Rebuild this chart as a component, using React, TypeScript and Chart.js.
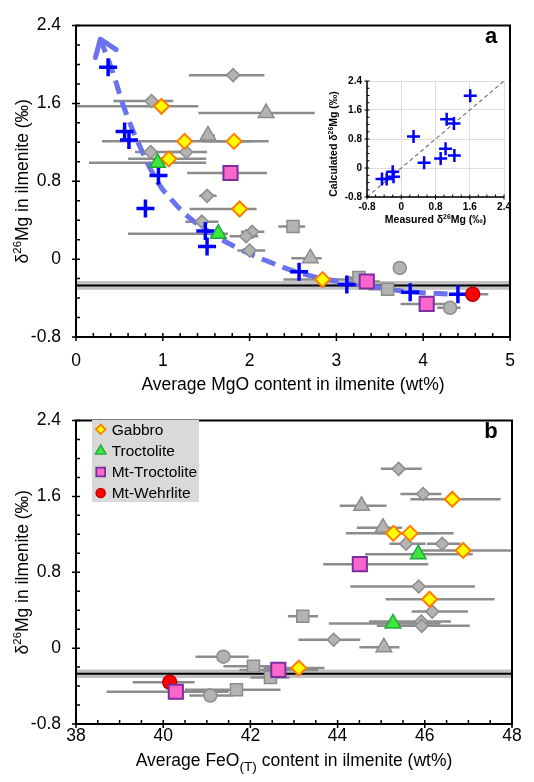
import React, { useEffect, useRef } from 'react';
import { Chart, registerables } from 'chart.js';

Chart.register(...registerables);

const FONT = 'Arial, "Liberation Sans", Helvetica, sans-serif';
Chart.defaults.font.family = FONT;

// ---------------- data ----------------
// mantle reference value of δ26Mg (line) and its half-width (band)
const mantleD26 = -0.27;
const mantleHalfWidth = 0.045;

// Gabbro (this study)
const gabbroD26 = [1.57, 1.21, 1.21, 1.03, 0.515, -0.21];
const gabbroMgO = [0.985, 1.25, 1.82, 1.07, 1.885, 2.84];
const gabbroMgOLo = [-0.2, 0.3, 1.45, 0.6, 1.31, 2.39];
const gabbroMgOHi = [1.41, 2.05, 2.22, 1.5, 2.08, 3.25];
const gabbroFeO = [46.63, 45.28, 45.66, 46.88, 46.11, 43.11];
const gabbroFeOLo = [45.67, 44.19, 44.9, 45.9, 45.1, 42.3];
const gabbroFeOHi = [47.74, 46.3, 46.66, 48.2, 47.6, 43.7];

// Troctolite
const troctD26 = [0.99, 0.26];
const troctMgO = [0.94, 1.64];
const troctMgOLo = [0.15, 0.6];
const troctMgOHi = [1.5, 1.75];
const troctFeO = [45.85, 45.27];
const troctFeOLo = [44.63, 43.8];
const troctFeOHi = [47.1, 46.36];

// Mt-Troctolite
const mtTroctD26 = [0.885, -0.23, -0.46];
const mtTroctMgO = [1.78, 3.35, 4.04];
const mtTroctMgOLo = [1.28, 3.2, 3.74];
const mtTroctMgOHi = [2.2, 3.5, 4.3];
const mtTroctFeO = [44.51, 42.64, 40.29];
const mtTroctFeOLo = [43.67, 41.75, 38.7];
const mtTroctFeOHi = [46.08, 43.55, 41.5];

// Mt-Wehrlite
const mtWehrD26 = [-0.36];
const mtWehrMgO = [4.57];
const mtWehrMgOLo = [4.35];
const mtWehrMgOHi = [4.75];
const mtWehrFeO = [40.15];
const mtWehrFeOLo = [39.3];
const mtWehrFeOHi = [40.72];

// Literature data (grey) - diamonds
const litDiaD26 = [1.89, 1.625, 1.1, 1.1, 0.65, 0.385, 0.28, 0.235, 0.088];
const litDiaMgO = [1.81, 0.87, 0.86, 1.27, 1.51, 1.45, 2.03, 1.96, 2.0];
const litDiaMgOLo = [1.3, 0.43, 0.68, 1.1, 1.42, 1.26, 1.9, 1.77, 1.86];
const litDiaMgOHi = [2.17, 1.12, 1.2, 1.51, 1.62, 1.64, 2.17, 2.1, 2.18];
const litDiaFeO = [45.4, 45.96, 45.57, 46.4, 45.86, 46.17, 45.92, 45.93, 43.91];
const litDiaFeOLo = [44.99, 45.44, 45.19, 46.05, 44.29, 45.7, 44.72, 44.9, 43.1];
const litDiaFeOHi = [45.93, 46.38, 46.02, 46.82, 47.15, 46.99, 46.6, 47.03, 44.52];

// Literature - triangles
const litTriD26 = [1.5, 1.27, 0.01];
const litTriMgO = [2.19, 1.52, 2.7];
const litTriMgOLo = [1.41, 1.45, 2.48];
const litTriMgOHi = [2.75, 1.6, 2.83];
const litTriFeO = [44.55, 45.04, 45.06];
const litTriFeOLo = [44.05, 44.44, 44.5];
const litTriFeOHi = [45.12, 45.48, 45.42];

// Literature - squares
const litSqD26 = [0.335, -0.19, -0.31, -0.44];
const litSqMgO = [2.5, 3.26, 3.59, null];
const litSqMgOLo = [2.33, 3.12, 3.37, null];
const litSqMgOHi = [2.64, 3.4, 3.73, null];
const litSqFeO = [43.2, 42.07, 42.46, 41.68];
const litSqFeOLo = [42.86, 41.38, 42.0, 40.5];
const litSqFeOHi = [43.55, 42.5, 42.9, 42.69];

// Literature - circles
const litCirD26 = [-0.09, -0.5];
const litCirMgO = [3.73, 4.31];
const litCirMgOLo = [3.73, 4.16];
const litCirMgOHi = [3.73, 4.43];
const litCirFeO = [41.38, 41.08];
const litCirFeOLo = [40.74, 40.6];
const litCirFeOHi = [41.96, 41.6];

// Calculated (model) δ26Mg vs MgO
const modelMgO = [0.37, 0.56, 0.61, 0.95, 0.8, 1.49, 1.51, 2.57, 3.12, 3.85, 4.4];
const modelD26 = [1.97, 1.31, 1.225, 0.86, 0.52, 0.29, 0.13, -0.13, -0.26, -0.34, -0.36];

// Trend curve (arrow tip first)
const curveMgO = [0.28, 0.42, 0.56, 0.75, 0.95, 1.12, 1.3, 1.55, 1.85, 2.23, 2.65, 3.03, 3.41, 3.78, 4.3];
const curveD26 = [2.26, 1.93, 1.54, 1.13, 0.78, 0.59, 0.43, 0.27, 0.12, -0.03, -0.16, -0.23, -0.28, -0.33, -0.36];

// Inset: measured vs calculated
const insetMeasured = [1.61, 1.06, 1.23, 0.287, 1.035, 1.24, 0.92, 0.534, -0.2, -0.18, -0.34, -0.45];
const insetCalculated = [1.99, 1.345, 1.23, 0.867, 0.533, 0.344, 0.263, 0.146, -0.1, -0.24, -0.305, -0.305];
const oneToOne = [-0.8, 2.4];

const legendLabels = ['Gabbro', 'Troctolite', 'Mt-Troctolite', 'Mt-Wehrlite'];

// ---------------- styles ----------------
const BAR_COLOR = '#8c8c8c';
const CURVE_COLOR = '#6a72ef';
const STY: Record<string, any> = {
  gabbro: { pointStyle: 'rectRot', pointRadius: 7.5, backgroundColor: '#ffff00', borderColor: '#ff7c00', borderWidth: 2 },
  troct: { pointStyle: 'triangle', pointRadius: 9, backgroundColor: '#3ee63e', borderColor: '#1fa83a', borderWidth: 1.5 },
  mtTroct: { pointStyle: 'rect', pointRadius: 10, backgroundColor: '#ff66cc', borderColor: '#7a2fa0', borderWidth: 2 },
  mtWehr: { pointStyle: 'circle', pointRadius: 7, backgroundColor: '#ff0000', borderColor: '#c00000', borderWidth: 1.5 },
  gDia: { pointStyle: 'rectRot', pointRadius: 6.5, backgroundColor: '#b3b3b3', borderColor: '#8c8c8c', borderWidth: 1.5 },
  gTri: { pointStyle: 'triangle', pointRadius: 9, backgroundColor: '#b3b3b3', borderColor: '#8c8c8c', borderWidth: 1.5 },
  gSq: { pointStyle: 'rect', pointRadius: 8.5, backgroundColor: '#b3b3b3', borderColor: '#8c8c8c', borderWidth: 1.5 },
  gCir: { pointStyle: 'circle', pointRadius: 6.5, backgroundColor: '#b3b3b3', borderColor: '#8c8c8c', borderWidth: 1.5 },
  model: { pointStyle: 'cross', pointRadius: 9, backgroundColor: '#0000ff', borderColor: '#0000ff', borderWidth: 3.5 },
};

type Seg = { t: string; s?: 'sup' | 'sub' };

function pts(xs: (number | null)[], ys: number[], lo?: (number | null)[], hi?: (number | null)[]) {
  const out: any[] = [];
  xs.forEach((x, i) => {
    if (x === null || x === undefined) return;
    out.push({ x, y: ys[i], lo: lo ? lo[i] : undefined, hi: hi ? hi[i] : undefined });
  });
  return out;
}

function drawRich(ctx: CanvasRenderingContext2D, segs: Seg[], cx: number, cy: number, size: number, weight: string, rotate = false) {
  ctx.save();
  ctx.translate(cx, cy);
  if (rotate) ctx.rotate(-Math.PI / 2);
  const fontFor = (s?: string) => `${weight} ${s === 'sup' ? size * 0.65 : s === 'sub' ? size * 0.78 : size}px ${FONT}`;
  let total = 0;
  const widths = segs.map((sg) => {
    ctx.font = fontFor(sg.s);
    const w = ctx.measureText(sg.t).width;
    total += w;
    return w;
  });
  let x = -total / 2;
  ctx.textBaseline = 'alphabetic';
  ctx.textAlign = 'left';
  ctx.fillStyle = '#000';
  const base = size * 0.36;
  segs.forEach((sg, i) => {
    ctx.font = fontFor(sg.s);
    let dy = base;
    if (sg.s === 'sup') dy -= size * 0.4;
    if (sg.s === 'sub') dy += size * 0.25;
    ctx.fillText(sg.t, x, dy);
    x += widths[i];
  });
  ctx.restore();
}

function drawMarker(ctx: CanvasRenderingContext2D, shape: string, x: number, y: number, r: number, fill: string, stroke: string, lw: number) {
  ctx.beginPath();
  if (shape === 'rectRot') {
    ctx.moveTo(x, y - r); ctx.lineTo(x + r, y); ctx.lineTo(x, y + r); ctx.lineTo(x - r, y); ctx.closePath();
  } else if (shape === 'triangle') {
    ctx.moveTo(x, y - r); ctx.lineTo(x + r * 0.866, y + r * 0.5); ctx.lineTo(x - r * 0.866, y + r * 0.5); ctx.closePath();
  } else if (shape === 'rect') {
    ctx.rect(x - r, y - r, 2 * r, 2 * r);
  } else {
    ctx.arc(x, y, r, 0, Math.PI * 2);
  }
  ctx.fillStyle = fill; ctx.fill();
  ctx.lineWidth = lw; ctx.strokeStyle = stroke; ctx.stroke();
}

const fmtTick = (v: any) => {
  const n = Number(v);
  if (Math.abs(n) < 1e-9) return '0';
  if (Math.abs(n - Math.round(n)) < 1e-9) return String(Math.round(n));
  return n.toFixed(1);
};

interface Decor {
  band?: boolean;
  errorBars?: boolean;
  xMinor: number; xMajor: number; yMinor: number; yMajor: number;
  tickIn: number; tickOut: number; tickWidth: number;
  frame: 'box' | 'L'; frameWidth: number;
  xTitle: Seg[]; xTitleY: number;
  yTitle: Seg[]; yTitleX: number; yTitleY?: number;
  titleSize: number; titleWeight: string;
  letter?: { text: string; x: number; y: number };
  legend?: { x: number; y: number; w: number; h: number; rows: number[]; markerX: number; textX: number };
  arrowDataset?: number;
}

function decorPlugin(o: Decor) {
  return {
    id: 'decor',
    beforeDatasetsDraw(chart: any) {
      const ctx: CanvasRenderingContext2D = chart.ctx;
      const { left, right, top, bottom } = chart.chartArea;
      const xs = chart.scales.x, ys = chart.scales.y;
      ctx.save();
      ctx.beginPath();
      ctx.rect(left, top, right - left, bottom - top);
      ctx.clip();
      if (o.band) {
        const y1 = ys.getPixelForValue(mantleD26 + mantleHalfWidth);
        const y2 = ys.getPixelForValue(mantleD26 - mantleHalfWidth);
        ctx.fillStyle = '#c2c2c2';
        ctx.fillRect(left, y1, right - left, y2 - y1);
        ctx.beginPath();
        const y0 = ys.getPixelForValue(mantleD26);
        ctx.moveTo(left, y0); ctx.lineTo(right, y0);
        ctx.strokeStyle = '#000'; ctx.lineWidth = 2; ctx.stroke();
      }
      if (o.errorBars) {
        ctx.strokeStyle = BAR_COLOR;
        ctx.lineWidth = 2.5;
        chart.data.datasets.forEach((ds: any) => {
          ds.data.forEach((p: any) => {
            if (p.lo === undefined || p.hi === undefined || p.lo === null) return;
            if (p.hi - p.lo < 1e-6) return;
            const y = ys.getPixelForValue(p.y);
            ctx.beginPath();
            ctx.moveTo(xs.getPixelForValue(p.lo), y);
            ctx.lineTo(xs.getPixelForValue(p.hi), y);
            ctx.stroke();
          });
        });
      }
      ctx.restore();
    },
    afterDatasetsDraw(chart: any) {
      if (o.arrowDataset === undefined) return;
      const ctx: CanvasRenderingContext2D = chart.ctx;
      const meta = chart.getDatasetMeta(o.arrowDataset);
      const p0 = meta.data[0], p1 = meta.data[1];
      if (!p0 || !p1) return;
      const ang = Math.atan2(p1.y - p0.y, p1.x - p0.x);
      const len = 19, spread = 0.62;
      ctx.save();
      ctx.strokeStyle = CURVE_COLOR;
      ctx.lineWidth = 5;
      ctx.lineCap = 'round';
      ctx.lineJoin = 'round';
      ctx.beginPath();
      ctx.moveTo(p0.x + Math.cos(ang + spread) * len, p0.y + Math.sin(ang + spread) * len);
      ctx.lineTo(p0.x, p0.y);
      ctx.lineTo(p0.x + Math.cos(ang - spread) * len, p0.y + Math.sin(ang - spread) * len);
      ctx.stroke();
      ctx.restore();
    },
    afterDraw(chart: any) {
      const ctx: CanvasRenderingContext2D = chart.ctx;
      const { left, right, top, bottom } = chart.chartArea;
      const xs = chart.scales.x, ys = chart.scales.y;
      ctx.save();
      // ticks
      ctx.strokeStyle = '#000';
      ctx.lineWidth = o.tickWidth;
      ctx.beginPath();
      const nx = Math.round((xs.max - xs.min) / o.xMinor);
      for (let i = 0; i <= nx; i++) {
        const v = xs.min + i * o.xMinor;
        const p = xs.getPixelForValue(v);
        const major = Math.abs(v / o.xMajor - Math.round(v / o.xMajor)) < 1e-6;
        ctx.moveTo(p, bottom - o.tickIn);
        ctx.lineTo(p, bottom + (major ? o.tickOut : 0));
      }
      const ny = Math.round((ys.max - ys.min) / o.yMinor);
      for (let i = 0; i <= ny; i++) {
        const v = ys.min + i * o.yMinor;
        const p = ys.getPixelForValue(v);
        const major = Math.abs(v / o.yMajor - Math.round(v / o.yMajor)) < 1e-6;
        ctx.moveTo(left + o.tickIn, p);
        ctx.lineTo(left - (major ? o.tickOut : 0), p);
      }
      ctx.stroke();
      // frame
      ctx.lineWidth = o.frameWidth;
      ctx.beginPath();
      if (o.frame === 'box') {
        ctx.rect(left, top, right - left, bottom - top);
      } else {
        ctx.moveTo(left, top); ctx.lineTo(left, bottom); ctx.lineTo(right, bottom);
      }
      ctx.stroke();
      // titles
      drawRich(ctx, o.xTitle, (left + right) / 2, o.xTitleY, o.titleSize, o.titleWeight);
      drawRich(ctx, o.yTitle, o.yTitleX, o.yTitleY !== undefined ? o.yTitleY : (top + bottom) / 2, o.titleSize, o.titleWeight, true);
      if (o.letter) {
        ctx.font = `bold 22px ${FONT}`;
        ctx.fillStyle = '#000';
        ctx.textAlign = 'center';
        ctx.textBaseline = 'alphabetic';
        ctx.fillText(o.letter.text, o.letter.x, o.letter.y);
      }
      if (o.legend) {
        const L = o.legend;
        ctx.fillStyle = '#d9d9d9';
        ctx.fillRect(L.x, L.y, L.w, L.h);
        const styles = [STY.gabbro, STY.troct, STY.mtTroct, STY.mtWehr];
        const sizes = [4.8, 6.2, 4.4, 4.6];
        legendLabels.forEach((lab, i) => {
          const s = styles[i];
          drawMarker(ctx, s.pointStyle, L.markerX, L.rows[i], sizes[i], s.backgroundColor, s.borderColor, s.borderWidth * 0.9);
          ctx.font = `15.5px ${FONT}`;
          ctx.fillStyle = '#000';
          ctx.textAlign = 'left';
          ctx.textBaseline = 'middle';
          ctx.fillText(lab, L.textX, L.rows[i] + 1);
        });
      }
      ctx.restore();
    },
  };
}

const d26Title: Seg[] = [{ t: 'δ' }, { t: '26', s: 'sup' }, { t: 'Mg in ilmenite (‰)' }];

function baseScales(xmin: number, xmax: number, xstep: number, xpad: number, xh: number, yw: number, tickSize: number, ypad: number) {
  return {
    x: {
      type: 'linear', min: xmin, max: xmax,
      ticks: { stepSize: xstep, callback: fmtTick, color: '#000', font: { size: tickSize, family: FONT }, padding: xpad, maxRotation: 0, autoSkip: false },
      grid: { display: false, drawTicks: false },
      border: { display: false },
      afterFit: (s: any) => { s.height = xh; },
    },
    y: {
      type: 'linear', min: -0.8, max: 2.4,
      ticks: { stepSize: 0.8, callback: fmtTick, color: '#000', font: { size: tickSize, family: FONT }, padding: ypad, autoSkip: false },
      grid: { display: false, drawTicks: false },
      border: { display: false },
      afterFit: (s: any) => { s.width = yw; },
    },
  };
}

function sampleDatasets(useMgO: boolean) {
  const pick = (mgo: any, mlo: any, mhi: any, feo: any, flo: any, fhi: any, y: number[]) =>
    useMgO ? pts(mgo, y, mlo, mhi) : pts(feo, y, flo, fhi);
  return [
    { label: 'Gabbro', data: pick(gabbroMgO, gabbroMgOLo, gabbroMgOHi, gabbroFeO, gabbroFeOLo, gabbroFeOHi, gabbroD26), ...STY.gabbro },
    { label: 'Troctolite', data: pick(troctMgO, troctMgOLo, troctMgOHi, troctFeO, troctFeOLo, troctFeOHi, troctD26), ...STY.troct },
    { label: 'Mt-Troctolite', data: pick(mtTroctMgO, mtTroctMgOLo, mtTroctMgOHi, mtTroctFeO, mtTroctFeOLo, mtTroctFeOHi, mtTroctD26), ...STY.mtTroct },
    { label: 'Mt-Wehrlite', data: pick(mtWehrMgO, mtWehrMgOLo, mtWehrMgOHi, mtWehrFeO, mtWehrFeOLo, mtWehrFeOHi, mtWehrD26), ...STY.mtWehr },
  ];
}

function grayDatasets(useMgO: boolean) {
  const pick = (mgo: any, mlo: any, mhi: any, feo: any, flo: any, fhi: any, y: number[]) =>
    useMgO ? pts(mgo, y, mlo, mhi) : pts(feo, y, flo, fhi);
  return [
    { label: 'lit-dia', data: pick(litDiaMgO, litDiaMgOLo, litDiaMgOHi, litDiaFeO, litDiaFeOLo, litDiaFeOHi, litDiaD26), ...STY.gDia },
    { label: 'lit-tri', data: pick(litTriMgO, litTriMgOLo, litTriMgOHi, litTriFeO, litTriFeOLo, litTriFeOHi, litTriD26), ...STY.gTri },
    { label: 'lit-sq', data: pick(litSqMgO, litSqMgOLo, litSqMgOHi, litSqFeO, litSqFeOLo, litSqFeOHi, litSqD26), ...STY.gSq },
    { label: 'lit-cir', data: pick(litCirMgO, litCirMgOLo, litCirMgOHi, litCirFeO, litCirFeOLo, litCirFeOHi, litCirD26), ...STY.gCir },
  ];
}

function configA(): any {
  const datasets: any[] = [
    ...sampleDatasets(true),
    { label: 'Calculated', data: pts(modelMgO, modelD26), ...STY.model },
    ...grayDatasets(true),
    {
      label: 'trend', data: pts(curveMgO, curveD26), showLine: true, pointRadius: 0,
      borderColor: CURVE_COLOR, borderWidth: 5, borderDash: [14, 8], tension: 0.4, fill: false,
    },
  ];
  return {
    type: 'scatter',
    data: { datasets },
    options: {
      animation: false, responsive: false, events: [],
      layout: { padding: { left: 0, right: 24, top: 14, bottom: 0 } },
      plugins: { legend: { display: false }, tooltip: { enabled: false } },
      scales: baseScales(0, 5, 1, 14, 58, 76, 17.5, 15),
    },
    plugins: [decorPlugin({
      band: true, errorBars: true,
      xMinor: 0.2, xMajor: 1, yMinor: 0.2, yMajor: 0.8,
      tickIn: 4, tickOut: 4, tickWidth: 1.5, frame: 'box', frameWidth: 2,
      xTitle: [{ t: 'Average MgO content in ilmenite (wt%)' }], xTitleY: 384,
      yTitle: d26Title, yTitleX: 22,
      titleSize: 17.5, titleWeight: 'normal',
      letter: { text: 'a', x: 491, y: 42.5 },
      arrowDataset: datasets.length - 1,
    })],
  };
}

function configB(): any {
  const datasets: any[] = [...sampleDatasets(false), ...grayDatasets(false)];
  return {
    type: 'scatter',
    data: { datasets },
    options: {
      animation: false, responsive: false, events: [],
      layout: { padding: { left: 0, right: 22, top: 11, bottom: 0 } },
      plugins: { legend: { display: false }, tooltip: { enabled: false } },
      scales: baseScales(38, 48, 2, 2, 58, 76, 17.5, 15),
    },
    plugins: [decorPlugin({
      band: true, errorBars: true,
      xMinor: 0.5, xMajor: 2, yMinor: 0.2, yMajor: 0.8,
      tickIn: 4, tickOut: 4, tickWidth: 1.5, frame: 'box', frameWidth: 2,
      xTitle: [{ t: 'Average FeO' }, { t: '(T)', s: 'sub' }, { t: ' content in ilmenite (wt%)' }], xTitleY: 365,
      yTitle: d26Title, yTitleX: 22,
      titleSize: 17.5, titleWeight: 'normal',
      letter: { text: 'b', x: 491, y: 43.3 },
      legend: { x: 92, y: 25, w: 107, h: 82, rows: [34.3, 56, 77, 98], markerX: 100.7, textX: 111.7 },
    })],
  };
}

function configC(): any {
  const scales: any = {
    x: {
      type: 'linear', min: -0.8, max: 2.4,
      ticks: { stepSize: 0.8, callback: fmtTick, color: '#000', font: { size: 10, weight: 'bold', family: FONT }, padding: 4, maxRotation: 0, autoSkip: false },
      grid: { color: '#dedede', lineWidth: 1, drawTicks: false },
      border: { display: false },
      afterFit: (s: any) => { s.height = 38; },
    },
    y: {
      type: 'linear', min: -0.8, max: 2.4,
      ticks: { stepSize: 0.8, callback: fmtTick, color: '#000', font: { size: 10, weight: 'bold', family: FONT }, padding: 5, autoSkip: false },
      grid: { color: '#dedede', lineWidth: 1, drawTicks: false },
      border: { display: false },
      afterFit: (s: any) => { s.width = 47; },
    },
  };
  const calcTitle: Seg[] = [{ t: 'Calculated δ' }, { t: '26', s: 'sup' }, { t: 'Mg (‰)' }];
  const measTitle: Seg[] = [{ t: 'Measured δ' }, { t: '26', s: 'sup' }, { t: 'Mg (‰)' }];
  return {
    type: 'scatter',
    data: {
      datasets: [
        { label: 'inset', data: pts(insetMeasured, insetCalculated), pointStyle: 'cross', pointRadius: 6.5, borderColor: '#0000ff', backgroundColor: '#0000ff', borderWidth: 2.5 },
        { label: '1:1', data: pts(oneToOne, oneToOne), showLine: true, pointRadius: 0, borderColor: '#777777', borderWidth: 1.2, borderDash: [4, 3] },
      ],
    },
    options: {
      animation: false, responsive: false, events: [],
      layout: { padding: { left: 0, right: 9, top: 8, bottom: 0 } },
      plugins: { legend: { display: false }, tooltip: { enabled: false } },
      scales,
    },
    plugins: [decorPlugin({
      xMinor: 0.2, xMajor: 0.8, yMinor: 0.2, yMajor: 0.8,
      tickIn: 2.5, tickOut: 2.5, tickWidth: 1, frame: 'L', frameWidth: 1.5,
      xTitle: measTitle, xTitleY: 149.5,
      yTitle: calcTitle, yTitleX: 13, yTitleY: 74,
      titleSize: 10.5, titleWeight: 'bold',
    })],
  };
}

export default function App() {
  const refA = useRef<HTMLCanvasElement>(null);
  const refB = useRef<HTMLCanvasElement>(null);
  const refC = useRef<HTMLCanvasElement>(null);
  useEffect(() => {
    const a = new Chart(refA.current as HTMLCanvasElement, configA());
    const b = new Chart(refB.current as HTMLCanvasElement, configB());
    const c = new Chart(refC.current as HTMLCanvasElement, configC());
    return () => { a.destroy(); b.destroy(); c.destroy(); };
  }, []);
  return (
    <div style={{ position: 'absolute', left: 0, top: 0, width: 534, height: 782, background: '#fff' }}>
      <canvas ref={refA} width={534} height={395} style={{ position: 'absolute', left: 0, top: 0, width: 534, height: 395 }} />
      <canvas ref={refB} width={534} height={387} style={{ position: 'absolute', left: 0, top: 395, width: 534, height: 387 }} />
      <canvas ref={refC} width={195} height={165} style={{ position: 'absolute', left: 320, top: 70, width: 195, height: 165 }} />
    </div>
  );
}
